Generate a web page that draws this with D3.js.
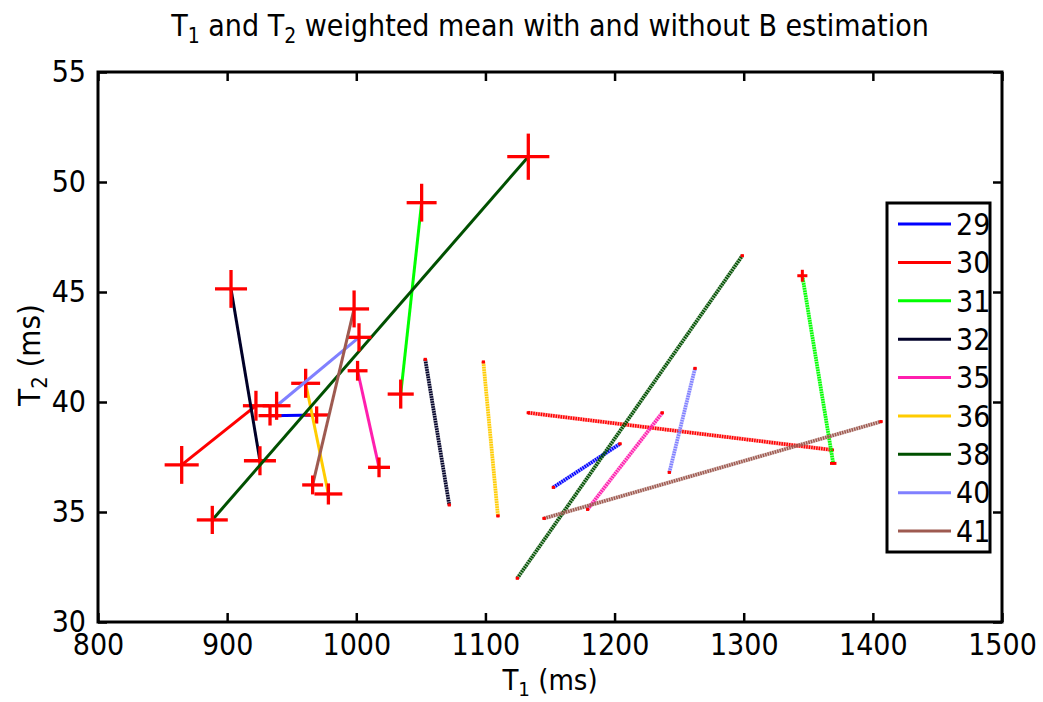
<!DOCTYPE html>
<html>
<head>
<meta charset="utf-8">
<script src="https://cdn.jsdelivr.net/npm/d3@7"></script>
<style>
  html, body { margin: 0; padding: 0; background: #fff; }
  svg { display: block; font-family: "DejaVu Sans Condensed", "DejaVu Sans", sans-serif; }
</style>
</head>
<body>
<div id="chart"></div>
<script>
// subjects and their colours
const subjects = ['29', '30', '31', '32', '35', '36', '38', '40', '41'];
const colors = ['#0000ff', '#ff0000', '#00ff00', '#000028', '#ff1fae', '#ffcc00', '#005000', '#8080ff', '#9e5a50'];

// solid lines (large crosses = T1/T2 spread at each end)
const solidT1 = [[933.2, 969.3], [864.8, 922.3], [1034.4, 1050.6], [903.0, 925.4], [1001.0, 1017.6], [960.8, 978.4], [888.5, 1133.2], [938.3, 1002.1], [966.2, 998.3]];
const solidT2 = [[39.38, 39.41], [37.14, 39.83], [40.36, 49.06], [45.14, 37.33], [41.42, 37.03], [40.85, 35.82], [34.64, 51.15], [39.83, 42.94], [36.23, 44.23]];
const solidT1Sd = [[8.9, 8.9], [13.2, 10.1], [10.1, 11.6], [12.4, 12.4], [7.7, 8.5], [11.2, 10.8], [12.0, 16.3], [10.8, 9.7], [8.1, 11.6]];
const solidT2Sd = [[0.45, 0.39], [0.86, 0.68], [0.66, 0.86], [0.86, 0.66], [0.45, 0.45], [0.66, 0.48], [0.64, 1.05], [0.64, 0.64], [0.43, 0.84]];

// dotted lines
const dottedT1 = [[1152.6, 1204.2], [1133.2, 1368.6], [1345.4, 1369.3], [1053.4, 1072.0], [1179.1, 1236.9], [1098.4, 1109.7], [1124.7, 1298.9], [1242.4, 1262.3], [1145.4, 1406.3]];
const dottedT2 = [[36.12, 38.10], [39.51, 37.82], [45.74, 37.21], [41.94, 35.32], [35.12, 39.51], [41.82, 34.82], [31.99, 46.65], [36.80, 41.53], [34.71, 39.11]];
const dottedT1Sd = [[1.2, 1.2], [1.2, 1.2], [3.9, 2.5], [1.2, 1.2], [1.2, 1.2], [1.2, 1.2], [1.2, 1.2], [1.2, 1.2], [1.2, 1.2]];
const dottedT2Sd = [[0.05, 0.05], [0.05, 0.05], [0.27, 0.05], [0.05, 0.05], [0.05, 0.05], [0.05, 0.05], [0.05, 0.05], [0.05, 0.05], [0.05, 0.05]];

// axes
const xTicks = [800, 900, 1000, 1100, 1200, 1300, 1400, 1500];
const yTicks = [30, 35, 40, 45, 50, 55];

const W = 1043, H = 702;
const margin = { top: 72, right: 41, bottom: 80, left: 98 };
const iw = W - margin.left - margin.right;
const ih = H - margin.top - margin.bottom;

const svg = d3.select('#chart').append('svg')
    .attr('width', W)
    .attr('height', H);

const x = d3.scaleLinear().domain([800, 1500]).range([0, iw]);
const y = d3.scaleLinear().domain([30, 55]).range([ih, 0]);

svg.append('defs').append('clipPath').attr('id', 'clip')
    .append('rect').attr('width', iw).attr('height', ih);

const g = svg.append('g').attr('transform', `translate(${margin.left},${margin.top})`);
const plot = g.append('g').attr('clip-path', 'url(#clip)');

// draw a cross (error bars) centred on a point
function cross(sel, t1, t2, s1, s2, width) {
    sel.append('line')
        .attr('x1', x(t1 - s1)).attr('x2', x(t1 + s1))
        .attr('y1', y(t2)).attr('y2', y(t2))
        .attr('stroke', '#ff0000').attr('stroke-width', width);
    sel.append('line')
        .attr('x1', x(t1)).attr('x2', x(t1))
        .attr('y1', y(t2 - s2)).attr('y2', y(t2 + s2))
        .attr('stroke', '#ff0000').attr('stroke-width', width);
}

// dotted series
subjects.forEach((s, i) => {
    const sg = plot.append('g');
    const seg = [0, 1].map(k => [x(dottedT1[i][k]), y(dottedT2[i][k])]);
    sg.append('path')
        .attr('d', d3.line()(seg))
        .attr('stroke', colors[i]).attr('stroke-opacity', 0.35)
        .attr('stroke-width', 4).attr('fill', 'none');
    sg.append('path')
        .attr('d', d3.line()(seg))
        .attr('stroke', colors[i])
        .attr('stroke-width', 3.5)
        .attr('stroke-dasharray', '1.5,1')
        .attr('fill', 'none');
    [0, 1].forEach(k => cross(sg, dottedT1[i][k], dottedT2[i][k], dottedT1Sd[i][k], dottedT2Sd[i][k], 3));
});

// solid series
subjects.forEach((s, i) => {
    const sg = plot.append('g');
    const seg = [0, 1].map(k => [x(solidT1[i][k]), y(solidT2[i][k])]);
    sg.append('path')
        .attr('d', d3.line()(seg))
        .attr('stroke', colors[i])
        .attr('stroke-width', 3)
        .attr('fill', 'none');
    [0, 1].forEach(k => cross(sg, solidT1[i][k], solidT2[i][k], solidT1Sd[i][k], solidT2Sd[i][k], 3.3));
});

// axes (MATLAB style box with inward ticks)
const tickLen = 9;
const axisFont = 30;
g.append('g').attr('transform', `translate(0,${ih})`)
    .call(d3.axisBottom(x).tickValues(xTicks).tickSize(-tickLen).tickPadding(tickLen + 3).tickFormat(d3.format('d')))
    .call(a => a.select('.domain').remove());
g.append('g').call(d3.axisTop(x).tickValues(xTicks).tickSize(-tickLen).tickFormat(''))
    .call(a => a.select('.domain').remove());
g.append('g')
    .call(d3.axisLeft(y).tickValues(yTicks).tickSize(-tickLen).tickPadding(tickLen + 3).tickFormat(d3.format('d')))
    .call(a => a.select('.domain').remove());
g.append('g').attr('transform', `translate(${iw},0)`)
    .call(d3.axisRight(y).tickValues(yTicks).tickSize(-tickLen).tickFormat(''))
    .call(a => a.select('.domain').remove());

g.selectAll('.tick line').attr('stroke', '#000').attr('stroke-width', 2.5);
g.selectAll('.tick text')
    .attr('fill', '#000')
    .style('font-family', '"DejaVu Sans Condensed", "DejaVu Sans", sans-serif')
    .style('font-size', axisFont + 'px');

g.append('rect')
    .attr('width', iw).attr('height', ih)
    .attr('fill', 'none').attr('stroke', '#000').attr('stroke-width', 3);

// labels with subscripts
function subLabel(sel, parts, size) {
    parts.forEach(p => {
        if (p.sub) {
            sel.append('tspan').text(p.t).attr('dy', size * 0.22).style('font-size', (size * 0.7) + 'px');
        } else {
            const ts = sel.append('tspan').text(p.t);
            if (p.up) ts.attr('dy', -size * 0.22);
        }
    });
}

const title = svg.append('text')
    .attr('x', margin.left + iw / 2).attr('y', 36)
    .attr('text-anchor', 'middle')
    .style('font-size', '30px');
subLabel(title, [
    { t: 'T' }, { t: '1', sub: true }, { t: ' and T', up: true }, { t: '2', sub: true },
    { t: ' weighted mean with and without B estimation', up: true }
], 30);

const xl = svg.append('text')
    .attr('x', margin.left + iw / 2).attr('y', 690)
    .attr('text-anchor', 'middle')
    .style('font-size', '29px');
subLabel(xl, [{ t: 'T' }, { t: '1', sub: true }, { t: ' (ms)', up: true }], 29);

const yl = svg.append('text')
    .attr('transform', `translate(40,${margin.top + ih / 2 + 8}) rotate(-90)`)
    .attr('text-anchor', 'middle')
    .style('font-size', '31px');
subLabel(yl, [{ t: 'T' }, { t: '2', sub: true }, { t: ' (ms)', up: true }], 31);

// legend
const lg = svg.append('g').attr('transform', 'translate(887,203)');
lg.append('rect')
    .attr('width', 103).attr('height', 349)
    .attr('fill', '#fff').attr('stroke', '#000').attr('stroke-width', 3);
const ly = d3.scalePoint().domain(subjects).range([21, 328]);
subjects.forEach((s, i) => {
    lg.append('line')
        .attr('x1', 11).attr('x2', 64)
        .attr('y1', ly(s)).attr('y2', ly(s))
        .attr('stroke', colors[i]).attr('stroke-width', 3);
    lg.append('text')
        .attr('x', 69).attr('y', ly(s))
        .attr('dy', '0.36em')
        .style('font-size', '30px')
        .text(s);
});
</script>
</body>
</html>
